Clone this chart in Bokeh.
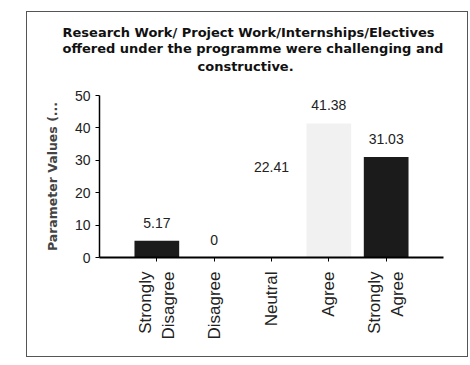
from bokeh.plotting import figure
from bokeh.models import ColumnDataSource, FactorRange, Range1d, Title
from bokeh.core.properties import value
from bokeh.embed import file_html
from bokeh.resources import INLINE

categories = ["Strongly\nDisagree", "Disagree", "Neutral", "Agree", "Strongly\nAgree"]
values = [5.17, 0, 22.41, 41.38, 31.03]
value_labels = ["5.17", "0", "22.41", "41.38", "31.03"]
bar_colors = ["#1b1b1b", "#1b1b1b", "#ffffff", "#f1f1f1", "#1b1b1b"]
y_ticks = [0, 10, 20, 30, 40, 50]
title_top = ("Research Work/ Project Work/Internships/Electives\n"
             "offered under the programme were challenging and")
title_last = "constructive."
y_label = "Parameter Values (..."

src = ColumnDataSource(dict(cat=categories, val=values, lab=value_labels, col=bar_colors))

p = figure(x_range=FactorRange(factors=categories, range_padding=0.5, range_padding_units="absolute"),
           y_range=Range1d(0, 50),
           frame_width=344, frame_height=162,
           min_border_left=72, min_border_right=24, min_border_top=83, min_border_bottom=99,
           output_backend="svg", toolbar_location=None, title=None)
p.styles = {"margin-left": "26px", "margin-top": "11px", "border": "1px solid #555"}

# spacer between the plot area and the title block
p.add_layout(Title(text=" ", standoff=5, text_font="DejaVu Sans", text_font_size="13px"), "above")
p.add_layout(Title(text=title_last, align="left", offset=98, standoff=0,
                   text_font="DejaVu Sans", text_font_size="13px", text_font_style="bold",
                   text_color="#111111"), "above")
p.add_layout(Title(text=title_top, align="left", offset=-37, standoff=0,
                   text_font="DejaVu Sans", text_font_size="13px", text_font_style="bold",
                   text_line_height=1.12, text_color="#111111"), "above")

p.vbar(x="cat", top="val", width=0.78, source=src, fill_color="col", line_color=None)
p.text(x="cat", y="val", text="lab", source=src, y_offset=-18, text_align="center",
       text_baseline="middle", text_font=value("Liberation Sans"), text_font_size="14px",
       text_color="#222222")

p.xgrid.visible = False
p.ygrid.visible = False
p.outline_line_color = None
p.background_fill_color = "white"
p.border_fill_color = "white"

p.yaxis.ticker = y_ticks
p.yaxis.minor_tick_line_color = None
p.yaxis.major_tick_out = 4
p.yaxis.major_tick_in = 0
p.yaxis.axis_line_width = 1.5
p.yaxis.major_label_text_font = "Liberation Sans"
p.yaxis.major_label_text_font_size = "14px"
p.yaxis.major_label_text_color = "#222222"
p.yaxis.major_label_standoff = 5
p.yaxis.axis_label = y_label
p.yaxis.axis_label_text_font = "DejaVu Sans"
p.yaxis.axis_label_text_font_size = "12.5px"
p.yaxis.axis_label_text_font_style = "bold"
p.yaxis.axis_label_standoff = 12

p.xaxis.major_tick_out = 4
p.xaxis.major_tick_in = 0
p.xaxis.axis_line_width = 2
p.xaxis.major_label_orientation = 1.5708
p.xaxis.major_label_text_font = "Liberation Sans"
p.xaxis.major_label_text_font_size = "17px"
p.xaxis.major_label_text_color = "#222222"
p.xaxis.major_label_standoff = 10

open("out.html", "w").write(file_html(p, INLINE))
